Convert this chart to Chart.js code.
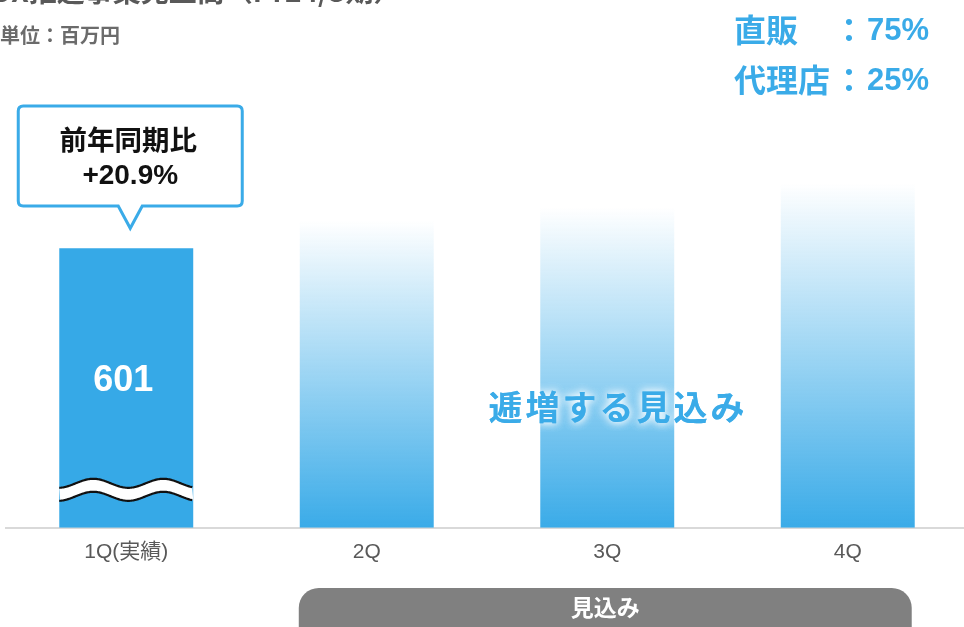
<!DOCTYPE html>
<html><head><meta charset="utf-8">
<script src="https://cdn.jsdelivr.net/npm/chart.js@4"></script>
<style>html,body{margin:0;padding:0;background:#fff;overflow:hidden}</style>
</head><body>
<canvas id="c" width="968" height="627"></canvas>
<script>
const categories = ['1Q(実績)', '2Q', '3Q', '4Q'];
const values = [601, 661, 689, 741];
const actualCount = 1;
const yoyLines = ['前年同期比', '+20.9%'];
const channelNames = ['直販', '代理店'];
const channelShares = ['75%', '25%'];
const titleText = 'DX推進事業売上高（FY24/3期）';
const unitText = '単位：百万円';
const trendText = '逓増する見込み';
const forecastText = '見込み';

const FONT = '"Liberation Sans", "Noto Sans CJK JP", sans-serif';
const JFONT = '"Noto Sans CJK JP", "Liberation Sans", sans-serif';
const BLUE = '#3aabe8';

function barColor(c) {
  const chart = c.chart;
  if (c.dataIndex < actualCount) return '#36a9e7';
  const ys = chart.scales.y;
  if (!ys || !chart.chartArea) return BLUE;
  const top = ys.getPixelForValue(c.raw);
  const base = ys.getPixelForValue(0);
  const g = chart.ctx.createLinearGradient(0, top, 0, base);
  g.addColorStop(0, 'rgba(58,171,232,0)');
  g.addColorStop(0.3, 'rgba(58,171,232,0.3)');
  g.addColorStop(1, 'rgba(58,171,232,1)');
  return g;
}

const decor = {
  id: 'decor',
  afterDatasetsDraw(chart) {
    const ctx = chart.ctx;
    const meta = chart.getDatasetMeta(0);
    const b0 = meta.data[0];
    ctx.save();
    // wave break on actual bar
    const left = b0.x - b0.width / 2, right = b0.x + b0.width / 2;
    const cy = b0.base - 44.5, amp = 4.5, period = 70, off = 13;
    const peakX = b0.x - 33;
    const yAt = (x, o) => cy + o - amp * Math.cos((x - peakX) / period * 2 * Math.PI);
    ctx.beginPath();
    for (let x = left; x <= right; x += 1) ctx.lineTo(x, yAt(x, 0));
    for (let x = right; x >= left; x -= 1) ctx.lineTo(x, yAt(x, off));
    ctx.closePath();
    ctx.fillStyle = '#fff';
    ctx.fill();
    ctx.strokeStyle = '#111';
    ctx.lineWidth = 2.2;
    [0, off].forEach(o => {
      ctx.beginPath();
      for (let x = left; x <= right; x += 1) ctx.lineTo(x, yAt(x, o));
      ctx.stroke();
    });
    // value label in actual bar
    ctx.fillStyle = '#fff';
    ctx.font = 'bold 36px ' + FONT;
    ctx.textAlign = 'center';
    ctx.textBaseline = 'middle';
    ctx.fillText(String(values[0]), b0.x - 3, 381);

    // callout
    const cx = b0.x + 4;
    const bl = cx - 112, br = cx + 112, bt = 106, bb = 206, tipY = b0.y - 20, r = 5;
    ctx.beginPath();
    ctx.moveTo(bl + r, bt);
    ctx.lineTo(br - r, bt); ctx.quadraticCurveTo(br, bt, br, bt + r);
    ctx.lineTo(br, bb - r); ctx.quadraticCurveTo(br, bb, br - r, bb);
    ctx.lineTo(cx + 12, bb); ctx.lineTo(cx, tipY); ctx.lineTo(cx - 12, bb);
    ctx.lineTo(bl + r, bb); ctx.quadraticCurveTo(bl, bb, bl, bb - r);
    ctx.lineTo(bl, bt + r); ctx.quadraticCurveTo(bl, bt, bl + r, bt);
    ctx.closePath();
    ctx.fillStyle = '#fff';
    ctx.fill();
    ctx.strokeStyle = BLUE;
    ctx.lineWidth = 3;
    ctx.stroke();
    ctx.fillStyle = '#111';
    ctx.font = 'bold 27.5px ' + JFONT;
    ctx.fillText(yoyLines[0], cx - 2, 140);
    ctx.font = 'bold 28px ' + FONT;
    ctx.fillText(yoyLines[1], cx, 176);

    // trend text
    ctx.save();
    ctx.font = 'bold 34px ' + JFONT;
    ctx.letterSpacing = '3px';
    ctx.shadowColor = 'rgba(255,255,255,0.95)';
    ctx.shadowBlur = 8;
    ctx.fillStyle = BLUE;
    ctx.textAlign = 'center';
    ctx.fillText(trendText, 618, 407);
    ctx.fillText(trendText, 618, 407);
    ctx.restore();
    ctx.restore();
  },
  afterDraw(chart) {
    const ctx = chart.ctx;
    ctx.save();
    ctx.textBaseline = 'middle';
    // title (cropped at top)
    ctx.fillStyle = '#595959';
    ctx.font = 'bold 28px ' + JFONT;
    ctx.textAlign = 'left';
    ctx.fillText(titleText, -8, -9);
    ctx.fillStyle = '#6b6b6b';
    ctx.font = 'bold 20px ' + JFONT;
    ctx.fillText(unitText, 0, 35);
    // channel shares
    ctx.fillStyle = BLUE;
    channelNames.forEach((n, i) => {
      const y = 30 + i * 50;
      ctx.font = 'bold 32px ' + JFONT;
      ctx.textAlign = 'left';
      ctx.fillText(n, 734, y);
      ctx.textAlign = 'center';
      ctx.fillText('：', 849, y);
      ctx.textAlign = 'right';
      ctx.font = 'bold 31px ' + FONT;
      ctx.fillText(channelShares[i], 929, y + 1);
    });
    // forecast pill
    const meta = chart.getDatasetMeta(0);
    const b1 = meta.data[1], b3 = meta.data[3];
    const pl = b1.x - b1.width / 2 - 1, pr = b3.x + b3.width / 2 - 3, pt = 588, rr = 20;
    ctx.beginPath();
    ctx.moveTo(pl + rr, pt);
    ctx.lineTo(pr - rr, pt);
    ctx.arc(pr - rr, pt + rr, rr, -Math.PI / 2, 0);
    ctx.lineTo(pr, 640);
    ctx.lineTo(pl, 640);
    ctx.lineTo(pl, pt + rr);
    ctx.arc(pl + rr, pt + rr, rr, Math.PI, Math.PI * 1.5);
    ctx.closePath();
    ctx.fillStyle = '#808080';
    ctx.fill();
    ctx.fillStyle = '#fff';
    ctx.font = 'bold 23px ' + JFONT;
    ctx.textAlign = 'center';
    ctx.fillText(forecastText, (pl + pr) / 2, 607);
    ctx.restore();
  }
};

new Chart(document.getElementById('c'), {
  type: 'bar',
  data: {
    labels: categories,
    datasets: [{
      data: values,
      backgroundColor: barColor,
      borderWidth: 0,
      barPercentage: 0.557,
      categoryPercentage: 1
    }]
  },
  options: {
    responsive: false,
    animation: false,
    devicePixelRatio: 1,
    layout: { padding: { left: 6, right: 0, top: 0, bottom: 50 } },
    plugins: { legend: { display: false }, tooltip: { enabled: false } },
    scales: {
      x: {
        grid: { display: false, drawTicks: false },
        border: { display: true, color: '#d9d9d9', width: 2 },
        ticks: { color: '#595959', font: { family: FONT, size: 21 }, padding: 12 }
      },
      y: { display: false, min: 0, max: 1135 }
    }
  },
  plugins: [decor]
});
</script>
</body></html>
